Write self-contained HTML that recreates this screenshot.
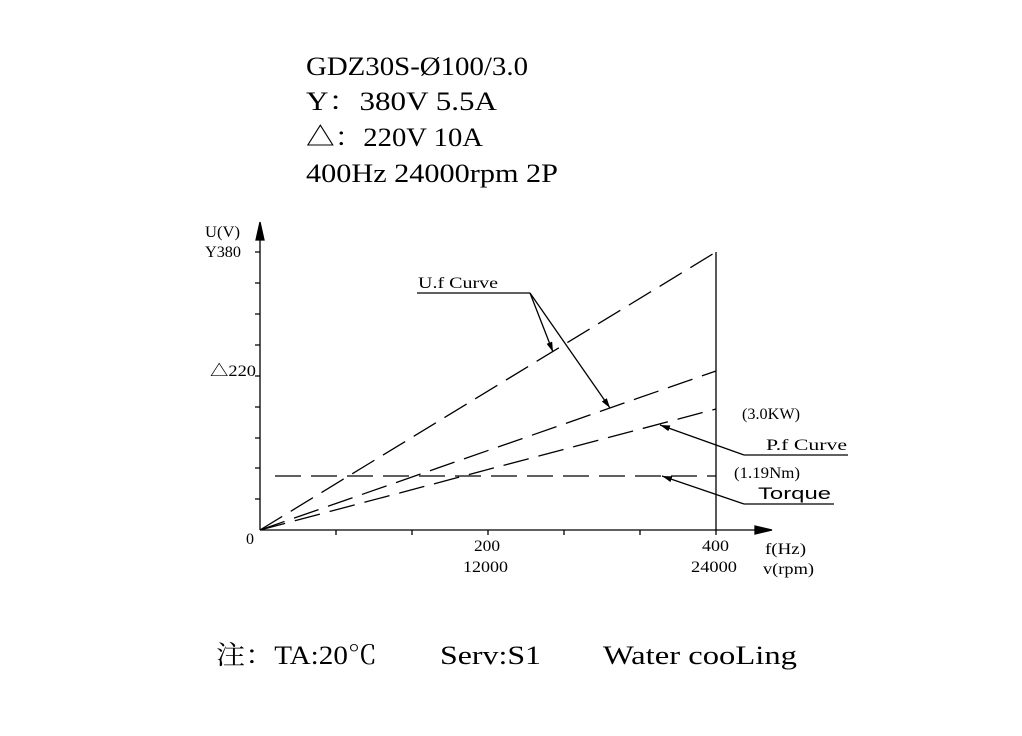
<!DOCTYPE html>
<html><head><meta charset="utf-8"><style>
body{margin:0;background:#fff;width:1022px;height:736px;overflow:hidden}
svg{position:absolute;left:0;top:0}
</style></head><body>
<svg width="1022" height="736" font-family="'Liberation Serif','Noto Serif CJK SC',serif" fill="#000">
<defs><marker id="a" markerWidth="10" markerHeight="6" refX="10" refY="3" orient="auto" markerUnits="userSpaceOnUse"><path d="M0,0L10,3L0,6z" fill="#000"/></marker></defs>
<g font-size="26" lengthAdjust="spacingAndGlyphs">
<text x="306" y="75" textLength="222" lengthAdjust="spacingAndGlyphs">GDZ30S-Ø100/3.0</text>
<text x="306" y="110" textLength="191" lengthAdjust="spacingAndGlyphs">Y：380V 5.5A</text>
<text x="306" y="146" textLength="177" lengthAdjust="spacingAndGlyphs">△：220V 10A</text>
<text x="306" y="182" textLength="252" lengthAdjust="spacingAndGlyphs">400Hz 24000rpm 2P</text>
<text x="216" y="664" textLength="161" lengthAdjust="spacingAndGlyphs">注：TA:20℃</text>
<text x="440" y="664" textLength="101" lengthAdjust="spacingAndGlyphs">Serv:S1</text>
<text x="603" y="664" textLength="194" lengthAdjust="spacingAndGlyphs">Water cooLing</text>
</g>
<g stroke="#000" stroke-width="1.3" fill="none">
<line x1="260" y1="530" x2="260" y2="224"/>
<path d="M256,240L260,222L264,240z" fill="#000"/>
<line x1="260" y1="530" x2="765" y2="530"/>
<path d="M755,526L772,530L755,534z" fill="#000"/>
<line x1="716" y1="252" x2="716" y2="530"/>
<path d="M255,252h5M255,283h5M255,314h5M255,345h5M255,376h5M255,407h5M255,438h5M255,468h5M255,499h5"/>
<path d="M336,530v5M412,530v5M488,530v5M564,530v5M640,530v5M716,530v5"/>
<g stroke-dasharray="26,10">
<line x1="260" y1="530" x2="716" y2="252"/>
<line x1="260" y1="530" x2="716" y2="371"/>
<line x1="260" y1="530" x2="716" y2="409"/>
<line x1="275" y1="476" x2="716" y2="476"/>
</g>
<line x1="417" y1="293" x2="530" y2="293"/>
<line x1="530" y1="293" x2="553" y2="352" marker-end="url(#a)"/>
<line x1="530" y1="293" x2="610" y2="408" marker-end="url(#a)"/>
<line x1="848" y1="455" x2="744" y2="455"/>
<line x1="744" y1="455" x2="660" y2="425" marker-end="url(#a)"/>
<line x1="834" y1="504" x2="744" y2="504"/>
<line x1="744" y1="504" x2="662" y2="476" marker-end="url(#a)"/>
</g>
<g font-size="16">
<text x="205" y="237" textLength="35" lengthAdjust="spacingAndGlyphs">U(V)</text>
<text x="205" y="257" textLength="36" lengthAdjust="spacingAndGlyphs">Y380</text>
<text x="210" y="376" textLength="46" lengthAdjust="spacingAndGlyphs">△220</text>
<text x="246" y="544">0</text>
<text x="474" y="551" textLength="26" lengthAdjust="spacingAndGlyphs">200</text>
<text x="463" y="572" textLength="45" lengthAdjust="spacingAndGlyphs">12000</text>
<text x="702" y="551" textLength="27" lengthAdjust="spacingAndGlyphs">400</text>
<text x="691" y="572" textLength="46" lengthAdjust="spacingAndGlyphs">24000</text>
<text x="765" y="554" textLength="41" lengthAdjust="spacingAndGlyphs">f(Hz)</text>
<text x="763" y="574" textLength="51" lengthAdjust="spacingAndGlyphs">v(rpm)</text>
<text x="418" y="288" textLength="80" lengthAdjust="spacingAndGlyphs">U.f Curve</text>
<text x="742" y="419" textLength="58" lengthAdjust="spacingAndGlyphs">(3.0KW)</text>
<text x="766" y="450" textLength="81" lengthAdjust="spacingAndGlyphs">P.f Curve</text>
<text x="734" y="478" textLength="66" lengthAdjust="spacingAndGlyphs">(1.19Nm)</text>
<text x="758" y="499" font-family="'Liberation Sans',sans-serif" font-size="17" textLength="73" lengthAdjust="spacingAndGlyphs">Torque</text>
</g>
</svg>
</body></html>
